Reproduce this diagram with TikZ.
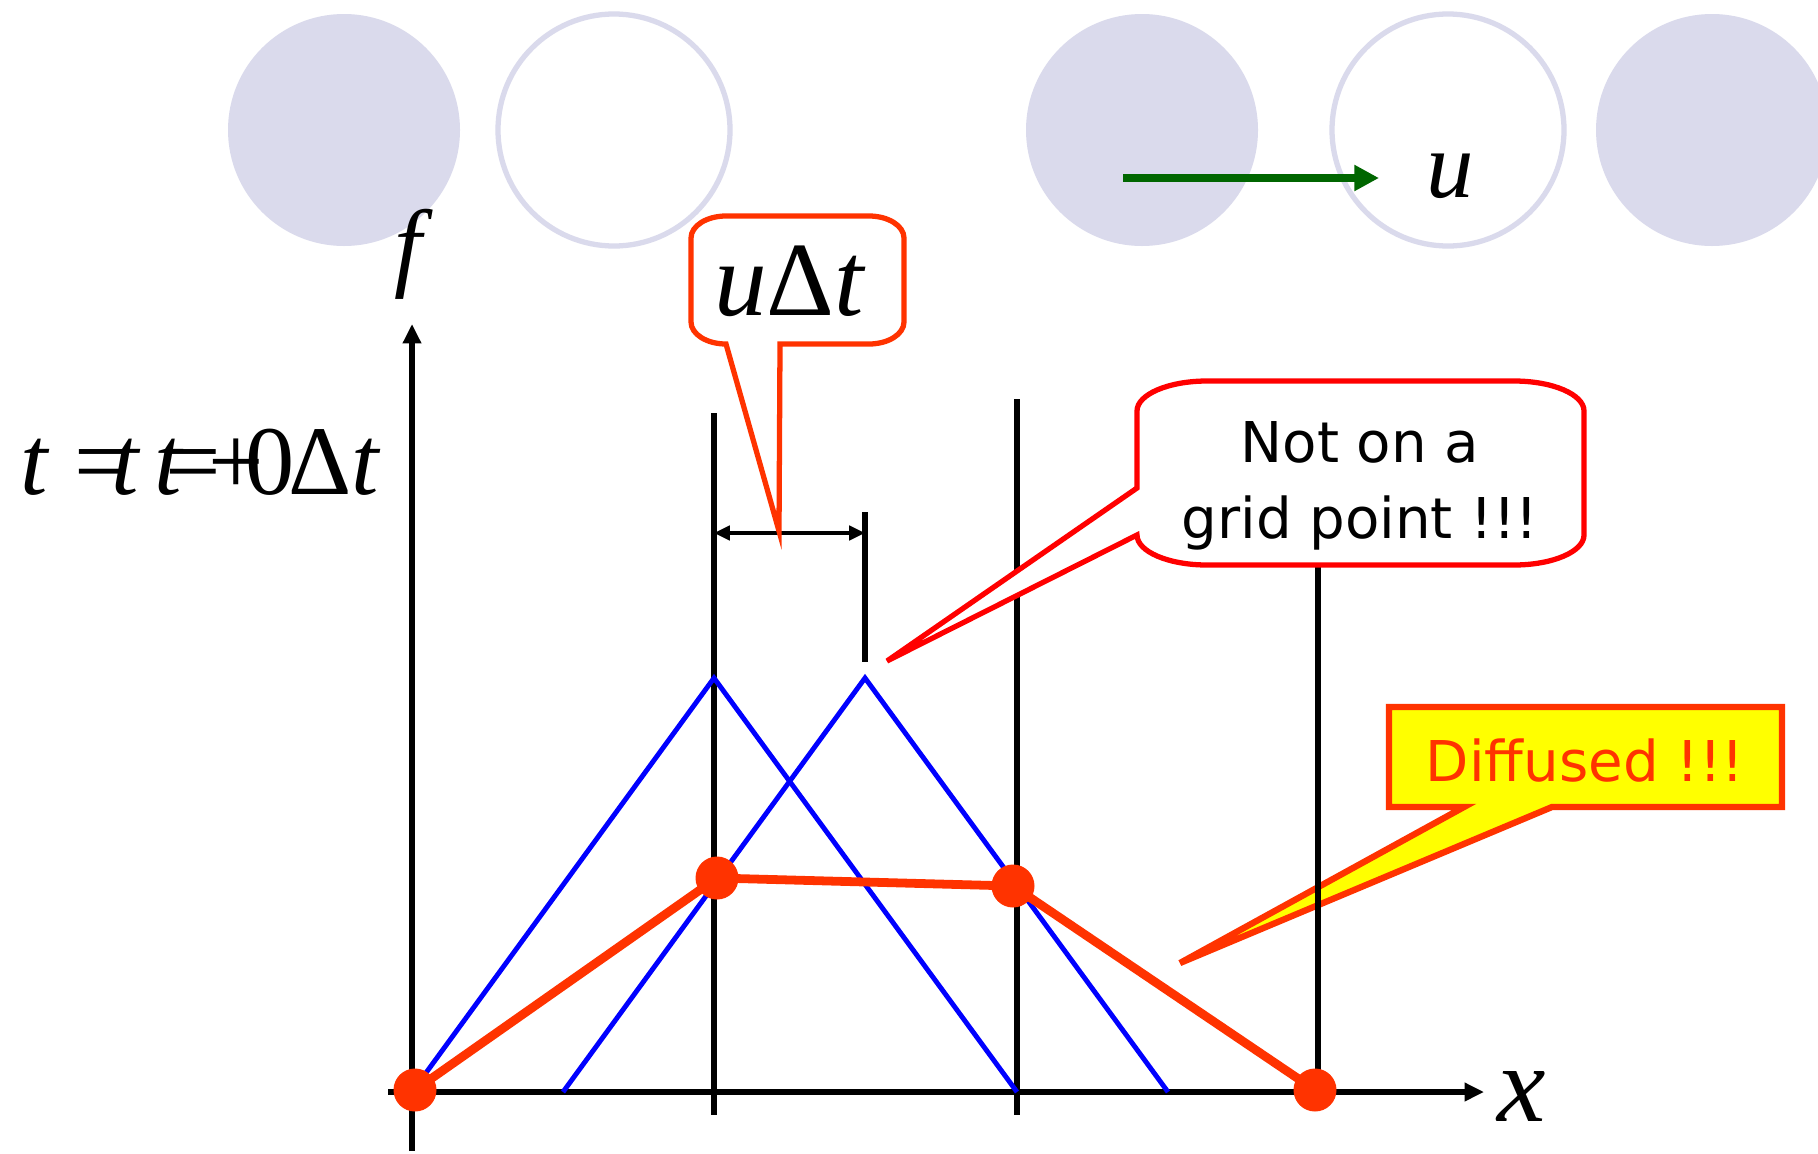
\documentclass[tikz,border=0pt]{standalone}
\usepackage{fontspec}
\newfontfamily\advserif{Liberation Serif}[ItalicFont={Liberation Serif Italic}]
\newfontfamily\advsans{DejaVu Sans}
\usetikzlibrary{arrows.meta}
\definecolor{advlav}{HTML}{DADAEC}
\definecolor{advred}{HTML}{FF3300}
\definecolor{advpure}{HTML}{FF0000}
\definecolor{advblue}{HTML}{0000FF}
\definecolor{advgreen}{HTML}{006600}
\definecolor{advyellow}{HTML}{FFFF00}
\newcommand{\vi}[1]{\textit{#1}}

\begin{document}
\begin{tikzpicture}[x=0.02cm, y=-0.02cm,
  cell/.style={fill=advlav},
  ring/.style={draw=advlav, line width=3pt, fill=white},
  flow/.style={draw=advgreen, line width=4.3pt, -{Triangle[length=14pt,width=14pt]}},
  axarr/.style={line width=3.8pt, -{Triangle[length=11pt,width=10pt]}},
  gline/.style={line width=3.2pt},
  dimarr/.style={line width=2.8pt, {Triangle[length=9pt,width=8pt]}-{Triangle[length=9pt,width=8pt]}},
  hat/.style={draw=advblue, line width=2.8pt, line join=miter},
  interp/.style={draw=advred, line width=5pt},
  dot/.style={fill=advred},
  mlab/.style={font=\advserif\fontsize{56}{58}\selectfont, inner sep=0pt},
  callout/.style={draw=advred, line width=3pt, fill=white, line join=miter},
  say/.style={font=\advsans\fontsize{32}{43}\selectfont, inner sep=0pt, align=center},
]
\useasboundingbox[fill=white] (0,0) rectangle (1818,1153);

\fill[cell] (344,130) circle (116);
\draw[ring] (614,130) circle (116);
\fill[cell] (1142,130) circle (116);
\draw[ring] (1448,130) circle (116);
\fill[cell] (1712,130) circle (116);

\coordinate (ua) at (1123,178);
\coordinate (ub) at (1379,178);
\draw[flow] (ua) -- (ub);
\node[mlab, font=\advserif\fontsize{54}{56}\selectfont, anchor=base] (ulab) at (1450,197) {\vi{u}};

\draw[callout, draw=advred, line width=3.6pt, fill=advyellow]
  (1464,807) -- (1389,807) -- (1389,707) -- (1782,707) -- (1782,807) -- (1552,807) -- (1180,963) -- cycle;

\coordinate (o)  at (412,1092);
\coordinate (g1) at (714,1092);
\coordinate (g2) at (1017,1092);
\coordinate (g3) at (1318,1092);
\draw[gline] (714,413) -- (714,1115);
\draw[gline] (1017,399) -- (1017,1115);
\draw[gline] (1318,420) -- (g3);
\draw[gline] (865,512) -- (865,662);
\coordinate (wl) at (714,533);
\coordinate (wr) at (865,533);
\draw[dimarr] (wl) -- (wr);

\draw[axarr] (412,1151) -- (412,324);
\draw[axarr] (388,1092) -- (1484,1092);
\node[mlab, font=\advserif\fontsize{56}{58}\selectfont, anchor=base] (flab) at (414,278) {\vi{f}};
\node[mlab, font=\advserif\fontsize{62}{64}\selectfont, anchor=base] (xlab) at (1522,1121) {\vi{x}};

\draw[hat] (o) -- (714,678) -- (g2);
\draw[hat] (563,1092) -- (865,678) -- (1168,1092);

\coordinate (d1) at (415,1090);
\coordinate (d2) at (717,878);
\coordinate (d3) at (1013,886);
\coordinate (d4) at (1315,1090);
\draw[interp] (d1) -- (d2) -- (d3) -- (d4);
\foreach \d in {d1,d2,d3,d4}
  \fill[dot] (\d) circle (21.5);

\node[mlab, anchor=base west] (tnext) at (20,494) {\vi{t} = \vi{t} + Δ\vi{t}};
\node[mlab, anchor=base west] (tzero) at (111,494) {\vi{t} = 0};

\draw[callout] (780,344) -- (869,344) arc[start angle=90, end angle=0, x radius=35, y radius=22]
  -- (904,238) arc[start angle=0, end angle=-90, x radius=35, y radius=22]
  -- (726,216) arc[start angle=270, end angle=180, x radius=35, y radius=22]
  -- (691,322) arc[start angle=180, end angle=90, x radius=35, y radius=22]
  -- (779,531) -- cycle;
\node[mlab, font=\advserif\fontsize{60}{62}\selectfont, anchor=base] (udt) at (790,315) {\vi{u}Δ\vi{t}};

\draw[callout, draw=advpure] (1137,488) -- (1137,411) arc[start angle=180, end angle=270, x radius=70, y radius=30]
  -- (1514,381) arc[start angle=270, end angle=360, x radius=70, y radius=30]
  -- (1584,535) arc[start angle=0, end angle=90, x radius=70, y radius=30]
  -- (1207,565) arc[start angle=90, end angle=180, x radius=70, y radius=30]
  -- (887,661) -- cycle;
\node[say] (grid) at (1360,486) {Not on a\\grid point !!!};
\node[say, text=advred, anchor=base] (diff) at (1585,781) {Diffused !!!};
\end{tikzpicture}
\end{document}
